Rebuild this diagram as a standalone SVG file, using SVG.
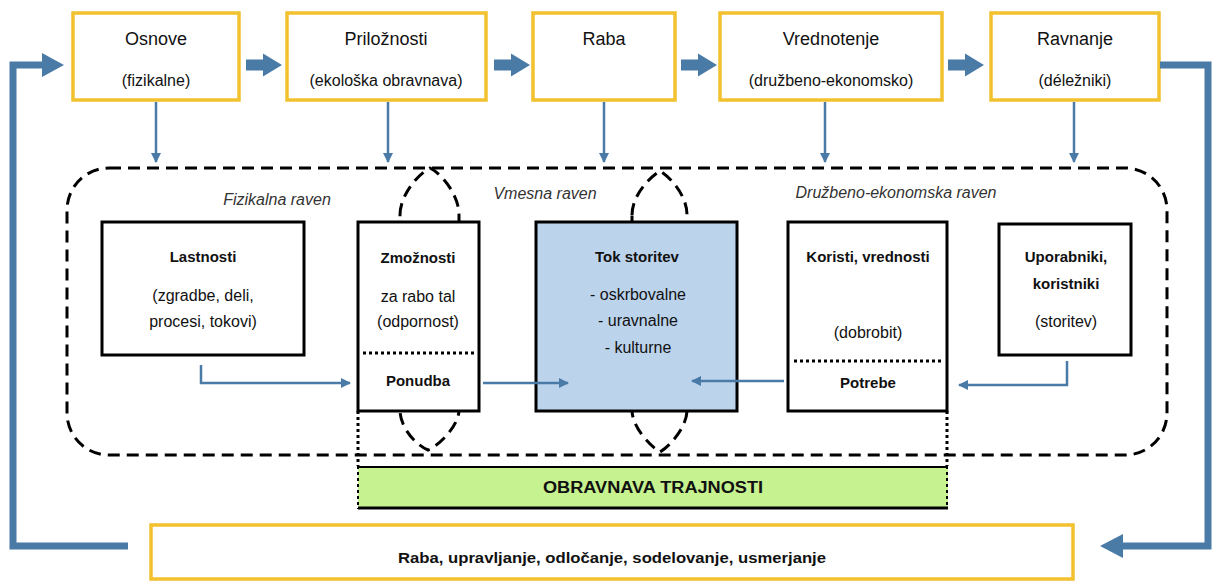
<svg xmlns="http://www.w3.org/2000/svg" width="1214" height="583" viewBox="0 0 1214 583">
<defs>
<style>
.ybox{fill:#fff;stroke:#F2C12E;stroke-width:3.5}
.bbox{fill:#fff;stroke:#000;stroke-width:3}
.t{font-family:"Liberation Sans",Arial,sans-serif;fill:#111;text-anchor:middle}
.tt{font-size:18px}
.ts{font-size:16px}
.tb{font-size:15px;font-weight:bold}
.ti{font-size:16px;font-style:italic;fill:#333}
.thin{fill:none;stroke:#4A7BA7;stroke-width:2.5}
.big{fill:none;stroke:#4A7BA7;stroke-width:7}
.head{fill:#4A7BA7}
.dash{fill:none;stroke:#000;stroke-width:3;stroke-dasharray:12 7}
.dot{fill:none;stroke:#000;stroke-width:3;stroke-dasharray:3 3}
</style>
<marker id="ah" viewBox="0 0 10 10" refX="9" refY="5" markerWidth="10" markerHeight="10" markerUnits="userSpaceOnUse" orient="auto">
<path d="M0,0 L10,5 L0,10 Z" fill="#4A7BA7"/>
</marker>
</defs>
<rect width="1214" height="583" fill="#fff"/>

<g id="levels">
<rect class="dash" x="67" y="168" width="1100" height="287" rx="42"/>
<path class="dash" d="M400,215 C400,195 418,174 430,168 C442,174 459,195 459,215 V410 C459,425 440,445 428,450 C416,445 400,428 400,410 Z"/>
<path class="dash" d="M632,215 C632,195 650,177 660,171 C670,177 687,195 687,215 V410 C687,427 670,446 660,452 C650,446 632,427 632,410 Z"/>
<text class="t ti" x="277" y="205">Fizikalna raven</text>
<text class="t ti" x="545" y="199">Vmesna raven</text>
<text class="t ti" x="896" y="198">Družbeno-ekonomska raven</text>
</g>

<g id="osnove">
<rect class="ybox" x="73" y="13" width="166" height="87"/>
<text class="t tt" x="156" y="45">Osnove</text>
<text class="t ts" x="156" y="86">(fizikalne)</text>
</g>
<g id="priloznosti">
<rect class="ybox" x="287" y="13" width="199" height="87"/>
<text class="t tt" x="386" y="45">Priložnosti</text>
<text class="t ts" x="386" y="86">(ekološka obravnava)</text>
</g>
<g id="raba">
<rect class="ybox" x="533" y="13" width="142" height="87"/>
<text class="t tt" x="604" y="45">Raba</text>
</g>
<g id="vrednotenje">
<rect class="ybox" x="720" y="13" width="222" height="87"/>
<text class="t tt" x="831" y="45">Vrednotenje</text>
<text class="t ts" x="831" y="86">(družbeno-ekonomsko)</text>
</g>
<g id="ravnanje">
<rect class="ybox" x="991" y="13" width="168" height="87"/>
<text class="t tt" x="1075" y="45">Ravnanje</text>
<text class="t ts" x="1075" y="86">(déležniki)</text>
</g>

<g id="lastnosti">
<rect class="bbox" x="102" y="222" width="202" height="133"/>
<text class="t tb" x="203" y="262">Lastnosti</text>
<text class="t ts" x="203" y="301">(zgradbe, deli,</text>
<text class="t ts" x="203" y="327">procesi, tokovi)</text>
</g>
<g id="zmoznosti">
<rect class="bbox" x="358" y="222" width="121" height="189"/>
<text class="t tb" x="418" y="263">Zmožnosti</text>
<text class="t ts" x="418" y="302">za rabo tal</text>
<text class="t ts" x="418" y="327">(odpornost)</text>
<line class="dot" x1="363" y1="353" x2="474" y2="353"/>
<text class="t tb" x="418" y="386">Ponudba</text>
</g>
<g id="tok">
<rect class="bbox" x="536" y="222" width="201" height="189" style="fill:#BCD3EC"/>
<text class="t tb" x="637" y="262">Tok storitev</text>
<text class="t ts" x="638" y="300">- oskrbovalne</text>
<text class="t ts" x="638" y="326">- uravnalne</text>
<text class="t ts" x="638" y="353">- kulturne</text>
</g>
<g id="koristi">
<rect class="bbox" x="788" y="222" width="159" height="189"/>
<text class="t tb" x="868" y="262">Koristi, vrednosti</text>
<text class="t ts" x="868" y="338">(dobrobit)</text>
<line class="dot" x1="794" y1="361" x2="942" y2="361"/>
<text class="t tb" x="868" y="388">Potrebe</text>
</g>
<g id="uporabniki">
<rect class="bbox" x="999" y="224" width="132" height="131"/>
<text class="t tb" x="1066" y="262">Uporabniki,</text>
<text class="t tb" x="1066" y="289">koristniki</text>
<text class="t ts" x="1066" y="327">(storitev)</text>
</g>

<g id="trajnost">
<rect x="358" y="466" width="590" height="43" fill="#C6F28F"/>
<line x1="358" y1="467" x2="948" y2="467" stroke="#000" stroke-width="2"/>
<line x1="358" y1="508" x2="948" y2="508" stroke="#000" stroke-width="3"/>
<line class="dot" x1="358" y1="466" x2="358" y2="509" style="stroke-width:2"/>
<line class="dot" x1="947" y1="466" x2="947" y2="509" style="stroke-width:2"/>
<text class="t" x="653" y="493" style="font-size:16px;font-weight:bold" textLength="220" lengthAdjust="spacingAndGlyphs">OBRAVNAVA TRAJNOSTI</text>
</g>

<g id="raba-upravljanje">
<rect class="ybox" x="151" y="525" width="922" height="54"/>
<text class="t" x="612" y="563" style="font-size:14px;font-weight:bold" textLength="428" lengthAdjust="spacingAndGlyphs">Raba, upravljanje, odločanje, sodelovanje, usmerjanje</text>
</g>

<g id="connectors">
<line class="thin" x1="156" y1="102" x2="156" y2="162" marker-end="url(#ah)"/>
<line class="thin" x1="388" y1="102" x2="388" y2="162" marker-end="url(#ah)"/>
<line class="thin" x1="604" y1="102" x2="604" y2="162" marker-end="url(#ah)"/>
<line class="thin" x1="825" y1="102" x2="825" y2="162" marker-end="url(#ah)"/>
<line class="thin" x1="1074" y1="102" x2="1074" y2="162" marker-end="url(#ah)"/>
<path class="thin" d="M201,365 V383 H350" marker-end="url(#ah)"/>
<path class="thin" d="M483,383 H568" marker-end="url(#ah)"/>
<path class="thin" d="M784,381 H692" marker-end="url(#ah)"/>
<path class="thin" d="M1067,361 V385 H959" marker-end="url(#ah)"/>
<path class="head" d="M246,59.5 H263 V53.5 L282,65 L263,76.5 V70.5 H246 Z"/>
<path class="head" d="M494,59.5 H511 V53.5 L530,65 L511,76.5 V70.5 H494 Z"/>
<path class="head" d="M681,59.5 H698 V53.5 L717,65 L698,76.5 V70.5 H681 Z"/>
<path class="head" d="M948,59.5 H965 V53.5 L984,65 L965,76.5 V70.5 H948 Z"/>
<polyline class="big" points="128,546 13,546 13,65 44,65"/>
<path class="head" d="M42,53 L64,65 L42,77 Z"/>
<polyline class="big" points="1160,65 1208,65 1208,546 1121,546"/>
<path class="head" d="M1123,534 L1100,546 L1123,558 Z"/>
<line class="dot" x1="358" y1="411" x2="358" y2="466"/>
<line class="dot" x1="947" y1="411" x2="947" y2="466"/>
</g>
</svg>
